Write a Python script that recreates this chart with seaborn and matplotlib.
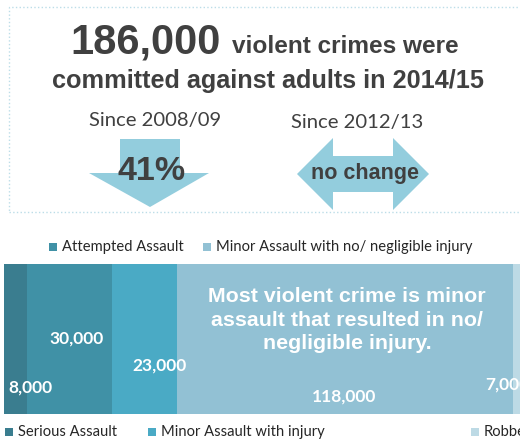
import matplotlib
matplotlib.use("Agg")
import matplotlib.pyplot as plt
import seaborn as sns
import pandas as pd
from matplotlib.patches import Polygon, Rectangle

# ---------------- data ----------------
categories = ["Serious Assault", "Attempted Assault", "Minor Assault with injury",
              "Minor Assault with no/ negligible injury", "Robbery"]
values = [8000, 30000, 23000, 118000, 7000]
value_labels = ["8,000", "30,000", "23,000", "118,000", "7,000"]
total_label = "186,000"
headline_rest = "violent crimes were"
headline_line2 = "committed against adults in 2014/15"
since_labels = ["Since 2008/09", "Since 2012/13"]
change_labels = ["41%", "no change"]
note = "Most violent crime is minor\nassault that resulted in no/\nnegligible injury."
top_legend = ["Attempted Assault", "Minor Assault with no/ negligible injury"]
bottom_legend = ["Serious Assault", "Minor Assault with injury", "Robbery"]

# ---------------- style ----------------
colors = ["#3a7d8f", "#4091a6", "#4aaac5", "#92c1d4", "#bddae5"]
cmap = dict(zip(categories, colors))
arrow_col = "#93cddd"
dark = "#404040"

W, H = 520, 442
sns.set_theme(style="white")
plt.rcParams["font.family"] = ["Liberation Sans", "DejaVu Sans"]

fig = plt.figure(figsize=(W / 100, H / 100), dpi=100)
fig.patch.set_facecolor("white")


def fx(x):
    return x / W


def fy(y):
    return 1 - y / H


# ---------------- stacked bar ----------------
ax = fig.add_axes([fx(4), fy(414), 1 - fx(4), (414 - 264) / H])
df = pd.DataFrame({"category": categories, "value": values})
df["cum"] = df["value"].cumsum()
df["start"] = df["cum"] - df["value"]
for i in range(len(df) - 1, -1, -1):
    sns.barplot(x=[df["cum"][i]], y=["all"], orient="h", color=colors[i],
                width=1.0, saturation=1, linewidth=0, ax=ax)
ax.set_xlim(0, 181600)
ax.set_ylim(0.5, -0.5)
ax.axis("off")

# value labels (x offsets relative to segment start, y in axes fraction)
label_dx = [1400, 17400, 16600, 58700, -9600]
label_y = [0.175, 0.505, 0.325, 0.115, 0.195]
label_ha = ["left", "center", "center", "center", "left"]
trans = ax.get_xaxis_transform()
for i in range(len(df)):
    ax.text(df["start"][i] + label_dx[i], label_y[i], value_labels[i],
            transform=trans, ha=label_ha[i], va="center", color="white",
            fontsize=12.5, fontweight="bold", family=["Lato", "DejaVu Sans"],
            clip_on=False)

fig.text(fx(347), fy(320), note, ha="center", va="center", color="white",
         fontsize=15.4, fontweight="bold", linespacing=1.3)

# ---------------- legends ----------------
def legend_item(x, y, label, color):
    fig.patches.append(Rectangle((fx(x), fy(y + 4)), 8 / W, 8 / H,
                                 transform=fig.transFigure, facecolor=color,
                                 edgecolor="none"))
    fig.text(fx(x + 13), fy(y), label, ha="left", va="center", color="#262626",
             fontsize=10.6, family=["Lato", "DejaVu Sans"])


legend_item(49, 247, top_legend[0], cmap["Attempted Assault"])
legend_item(203, 247, top_legend[1], cmap["Minor Assault with no/ negligible injury"])
legend_item(5, 432, bottom_legend[0], cmap["Serious Assault"])
legend_item(148, 432, bottom_legend[1], cmap["Minor Assault with injury"])
legend_item(471, 432, bottom_legend[2], cmap["Robbery"])

# ---------------- top info box ----------------
fig.patches.append(Rectangle((fx(9), fy(212)), (540 - 9) / W, (212 - 7) / H,
                             transform=fig.transFigure, facecolor="none",
                             edgecolor="#bcdde8", linewidth=1, linestyle=":"))

fig.text(fx(70), fy(53), total_label, ha="left", va="baseline", color=dark,
         fontsize=30, fontweight="bold")
fig.text(fx(232), fy(53), headline_rest, ha="left", va="baseline", color=dark,
         fontsize=17.6, fontweight="bold")
fig.text(fx(268), fy(88), headline_line2, ha="center", va="baseline", color=dark,
         fontsize=18.2, fontweight="bold")

fig.text(fx(155), fy(126), since_labels[0], ha="center", va="baseline", color=dark,
         fontsize=14.6, family=["Lato", "DejaVu Sans"])
fig.text(fx(357), fy(128), since_labels[1], ha="center", va="baseline", color=dark,
         fontsize=14.6, family=["Lato", "DejaVu Sans"])

down = [(120, 139), (180, 139), (180, 173), (209, 173), (150, 207), (89, 173), (120, 173)]
both = [(297, 174), (333, 138), (333, 156), (393, 156), (393, 138), (429, 174),
        (393, 210), (393, 192), (333, 192), (333, 210)]
for pts in (down, both):
    fig.patches.append(Polygon([(fx(a), fy(b)) for a, b in pts], closed=True,
                               transform=fig.transFigure, facecolor=arrow_col,
                               edgecolor="none"))

fig.text(fx(152), fy(180), change_labels[0], ha="center", va="baseline", color=dark,
         fontsize=24.5, fontweight="bold")
fig.text(fx(365), fy(179), change_labels[1], ha="center", va="baseline", color=dark,
         fontsize=15.5, fontweight="bold")

fig.savefig("out.png", dpi=100, facecolor="white")
